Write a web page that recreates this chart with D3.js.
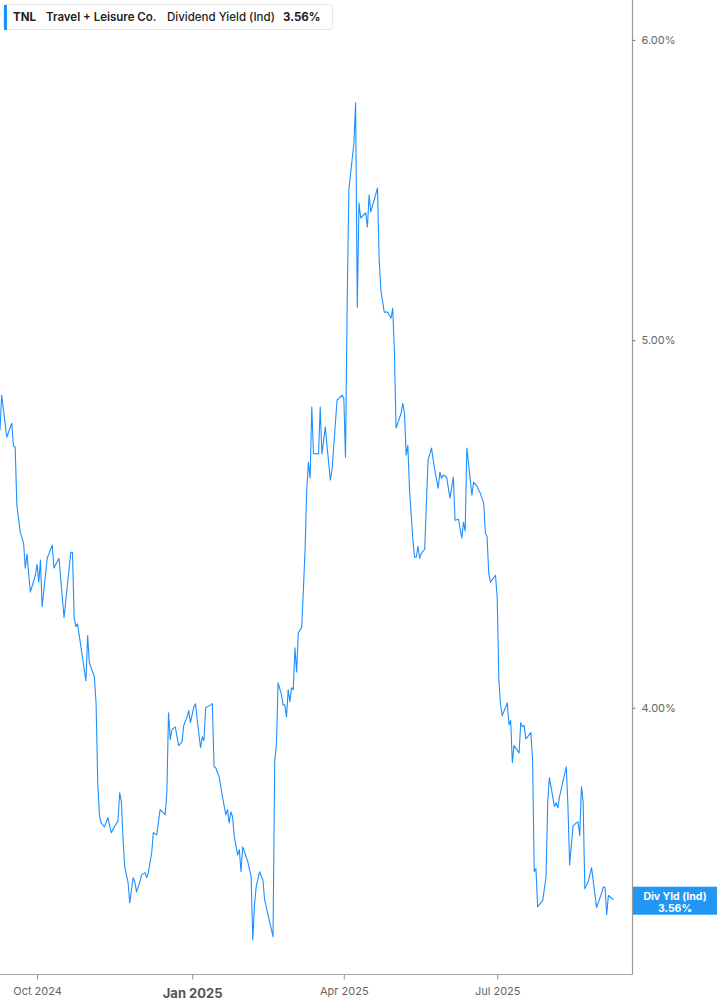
<!DOCTYPE html>
<html><head><meta charset="utf-8">
<script src="https://cdn.jsdelivr.net/npm/d3@7"></script>
<style>html,body{margin:0;padding:0;background:#fff;}svg{display:block;font-family:Inter,"Noto Sans",sans-serif;}</style>
</head><body>
<script>
const dates = ["2024-09-09","2024-09-10","2024-09-13","2024-09-16","2024-09-17","2024-09-18","2024-09-19","2024-09-20","2024-09-21","2024-09-23","2024-09-24","2024-09-25","2024-09-27","2024-09-30","2024-10-01","2024-10-02","2024-10-03","2024-10-04","2024-10-07","2024-10-10","2024-10-11","2024-10-14","2024-10-17","2024-10-21","2024-10-22","2024-10-23","2024-10-24","2024-10-25","2024-10-30","2024-10-31","2024-11-01","2024-11-04","2024-11-05","2024-11-06","2024-11-07","2024-11-08","2024-11-10","2024-11-12","2024-11-14","2024-11-18","2024-11-19","2024-11-20","2024-11-21","2024-11-22","2024-11-24","2024-11-25","2024-11-27","2024-11-28","2024-11-29","2024-12-01","2024-12-02","2024-12-04","2024-12-05","2024-12-06","2024-12-08","2024-12-09","2024-12-11","2024-12-13","2024-12-15","2024-12-16","2024-12-17","2024-12-18","2024-12-19","2024-12-20","2024-12-22","2024-12-24","2024-12-26","2024-12-27","2024-12-29","2024-12-30","2024-12-31","2025-01-02","2025-01-03","2025-01-04","2025-01-06","2025-01-07","2025-01-08","2025-01-09","2025-01-12","2025-01-13","2025-01-14","2025-01-15","2025-01-17","2025-01-19","2025-01-21","2025-01-22","2025-01-23","2025-01-24","2025-01-25","2025-01-26","2025-01-28","2025-01-29","2025-01-30","2025-01-31","2025-02-02","2025-02-03","2025-02-05","2025-02-06","2025-02-07","2025-02-08","2025-02-10","2025-02-12","2025-02-13","2025-02-18","2025-02-19","2025-02-20","2025-02-21","2025-02-23","2025-02-24","2025-02-25","2025-02-26","2025-02-27","2025-02-28","2025-03-01","2025-03-02","2025-03-03","2025-03-04","2025-03-05","2025-03-07","2025-03-08","2025-03-09","2025-03-10","2025-03-11","2025-03-12","2025-03-13","2025-03-14","2025-03-17","2025-03-18","2025-03-19","2025-03-21","2025-03-24","2025-03-25","2025-03-28","2025-03-31","2025-04-01","2025-04-02","2025-04-03","2025-04-04","2025-04-07","2025-04-08","2025-04-09","2025-04-10","2025-04-11","2025-04-14","2025-04-15","2025-04-16","2025-04-17","2025-04-21","2025-04-22","2025-04-23","2025-04-25","2025-04-27","2025-04-29","2025-04-30","2025-05-01","2025-05-02","2025-05-05","2025-05-06","2025-05-07","2025-05-08","2025-05-09","2025-05-10","2025-05-12","2025-05-13","2025-05-14","2025-05-15","2025-05-16","2025-05-17","2025-05-19","2025-05-20","2025-05-21","2025-05-23","2025-05-25","2025-05-27","2025-05-28","2025-05-29","2025-05-30","2025-06-01","2025-06-03","2025-06-05","2025-06-06","2025-06-08","2025-06-10","2025-06-11","2025-06-12","2025-06-13","2025-06-14","2025-06-16","2025-06-17","2025-06-19","2025-06-21","2025-06-23","2025-06-24","2025-06-25","2025-06-26","2025-06-27","2025-06-30","2025-07-01","2025-07-02","2025-07-03","2025-07-04","2025-07-07","2025-07-08","2025-07-09","2025-07-10","2025-07-11","2025-07-14","2025-07-15","2025-07-16","2025-07-17","2025-07-18","2025-07-21","2025-07-22","2025-07-23","2025-07-24","2025-07-25","2025-07-28","2025-07-30","2025-07-31","2025-08-01","2025-08-04","2025-08-05","2025-08-06","2025-08-07","2025-08-11","2025-08-12","2025-08-13","2025-08-15","2025-08-17","2025-08-18","2025-08-19","2025-08-20","2025-08-21","2025-08-22","2025-08-24","2025-08-26","2025-08-29","2025-09-01","2025-09-02","2025-09-03","2025-09-04","2025-09-05","2025-09-08"];

const yieldValues = [4.734,4.836,4.714,4.754,4.688,4.686,4.523,4.488,4.450,4.420,4.354,4.391,4.291,4.335,4.364,4.317,4.375,4.253,4.380,4.415,4.354,4.380,4.225,4.396,4.396,4.225,4.202,4.209,4.066,4.179,4.111,4.076,4.012,3.822,3.748,3.730,3.721,3.742,3.708,3.735,3.799,3.778,3.692,3.632,3.597,3.553,3.608,3.599,3.577,3.599,3.614,3.619,3.608,3.619,3.663,3.708,3.703,3.760,3.753,3.748,3.799,3.988,3.923,3.947,3.954,3.909,3.918,3.957,3.978,3.993,3.964,4.002,4.010,3.971,3.904,3.930,3.921,4.000,4.007,4.010,3.859,3.857,3.836,3.790,3.748,3.760,3.730,3.755,3.744,3.699,3.658,3.670,3.621,3.676,3.654,3.643,3.610,3.474,3.549,3.588,3.621,3.603,3.560,3.481,3.871,3.911,4.061,4.032,4.007,4.007,3.978,4.044,4.015,4.049,4.044,4.148,4.088,4.186,4.199,4.296,4.401,4.565,4.643,4.598,4.801,4.668,4.666,4.801,4.666,4.743,4.593,4.621,4.821,4.836,4.827,4.657,5.114,5.478,5.636,5.775,5.101,5.435,5.385,5.402,5.356,5.461,5.405,5.484,5.249,5.154,5.086,5.086,5.067,5.098,4.970,4.740,4.783,4.812,4.783,4.663,4.691,4.565,4.428,4.383,4.383,4.412,4.380,4.393,4.404,4.529,4.649,4.683,4.621,4.570,4.615,4.598,4.607,4.601,4.543,4.601,4.482,4.485,4.434,4.477,4.453,4.683,4.640,4.551,4.587,4.576,4.556,4.529,4.447,4.439,4.340,4.317,4.335,4.278,4.069,4.007,3.981,4.012,3.959,3.969,3.869,3.909,3.892,3.964,3.954,3.957,3.925,3.940,3.876,3.621,3.628,3.545,3.558,3.610,3.778,3.834,3.767,3.776,3.764,3.790,3.859,3.767,3.636,3.723,3.730,3.732,3.701,3.813,3.778,3.584,3.599,3.630,3.543,3.575,3.588,3.586,3.528,3.569,3.560];

const yTickValues = [4, 5, 6];
const xTickDates = ["2024-10-01","2025-01-01","2025-04-01","2025-07-01"];
const xTickLabels = ["Oct 2024","Jan 2025","Apr 2025","Jul 2025"];
const xDomain = ["2024-09-09","2025-09-19"];
const yDomain = [3.403, 6.147];
const lastValue = 3.56;

const W = 717, H = 1005;
const plotW = 632, plotH = 974;
const parse = d3.timeParse("%Y-%m-%d");
const data = dates.map((d,i)=>({date: parse(d), v: yieldValues[i]}));

const x = d3.scaleTime().domain(xDomain.map(parse)).range([0, plotW]);
const y = d3.scaleLog().domain(yDomain).range([plotH, 0]);

const svg = d3.select("body").append("svg").attr("width", W).attr("height", H);

// line
svg.append("path").datum(data)
  .attr("fill","none").attr("stroke","#1e8fff").attr("stroke-width",1.1)
  .attr("stroke-linejoin","round")
  .attr("d", d3.line().x(d=>x(d.date)).y(d=>y(d.v)));

// right axis
const yAxis = d3.axisRight(y).tickValues(yTickValues).tickSize(3).tickPadding(6)
  .tickFormat(d => d3.format(".2f")(d) + "%");
const gy = svg.append("g").attr("transform", `translate(${plotW + 0.5},0)`).call(yAxis);
gy.select(".domain").attr("stroke","#9a9a9a").attr("stroke-width",1.2).attr("d", `M0,0V${plotH}`);
gy.selectAll(".tick line").attr("stroke","#777");
gy.selectAll(".tick text").attr("fill","#666").attr("font-size",11).attr("font-family","Inter, 'Noto Sans', sans-serif");

// bottom axis
const xAxis = d3.axisBottom(x).tickValues(xTickDates.map(parse)).tickSize(5).tickPadding(8)
  .tickFormat((d,i)=>xTickLabels[i]);
const gx = svg.append("g").attr("transform", `translate(0,${plotH + 0.5})`).call(xAxis);
gx.select(".domain").attr("stroke","#a8a8a8").attr("stroke-width",1.2).attr("d", `M0,0H${plotW + 1}`);
gx.selectAll(".tick line").attr("stroke","#a0a0a0").attr("stroke-width",1.2);
gx.selectAll(".tick text").attr("fill","#666").attr("font-size",11).attr("font-family","Inter, 'Noto Sans', sans-serif")
  .attr("dy","0.71em")
  .each(function(d,i){
    if (xTickLabels[i].startsWith("Jan")) {
      d3.select(this).attr("font-size",13).attr("font-weight",700).attr("fill","#555").attr("y",14);
    } else { d3.select(this).attr("y",13); }
  });

// legend
const leg = svg.append("g");
leg.append("rect").attr("x",3.5).attr("y",4.5).attr("width",329).attr("height",25).attr("rx",3)
  .attr("fill","#fff").attr("stroke","#e8e8e8");
leg.append("rect").attr("x",4).attr("y",5).attr("width",3).attr("height",25).attr("fill","#1e8fff");
const legItems = [
  {t:"TNL", x:13, w:700},
  {t:"Travel + Leisure Co.", x:46, w:600},
  {t:"Dividend Yield (Ind)", x:167, w:500},
  {t:"3.56%", x:283, w:700}
];
leg.selectAll("text.l").data(legItems).enter().append("text")
  .attr("x",d=>d.x).attr("y",21).attr("font-size",11.5).attr("font-weight",d=>d.w)
  .attr("fill","#222").text(d=>d.t);

// last value label
const lv = svg.append("g");
const ly = y(lastValue);
lv.append("rect").attr("x",plotW+1).attr("y",ly-13).attr("width",W-plotW-1).attr("height",28).attr("fill","#2196f3");
lv.append("text").attr("x",(plotW+1+W)/2).attr("y",ly).attr("text-anchor","middle")
  .attr("fill","#fff").attr("font-size",10.5).attr("font-weight",700).text("Div Yld (Ind)");
lv.append("text").attr("x",(plotW+1+W)/2).attr("y",ly+12).attr("text-anchor","middle")
  .attr("fill","#fff").attr("font-size",10.5).attr("font-weight",700).text(d3.format(".2f")(lastValue)+"%");
</script>
</body></html>
